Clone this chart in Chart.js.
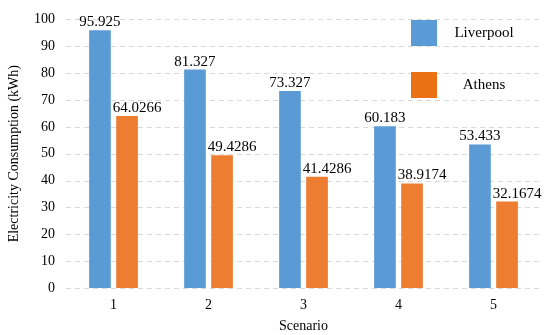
<!DOCTYPE html>
<html>
<head>
<meta charset="utf-8">
<script src="https://cdn.jsdelivr.net/npm/chart.js@4/dist/chart.umd.min.js"></script>
<style>
html,body{margin:0;padding:0;background:#fff;}
#wrap{width:550px;height:335px;position:relative;}
</style>
</head>
<body>
<div id="wrap"><canvas id="c" width="550" height="335"></canvas></div>
<script>
const categories = ['1', '2', '3', '4', '5'];
const liverpool = [95.925, 81.327, 73.327, 60.183, 53.433];
const athens = [64.0266, 49.4286, 41.4286, 38.9174, 32.1674];
const liverpoolLabels = ['95.925', '81.327', '73.327', '60.183', '53.433'];
const athensLabels = ['64.0266', '49.4286', '41.4286', '38.9174', '32.1674'];
const seriesNames = ['Liverpool', 'Athens'];

const FONT = '"Liberation Serif", "Times New Roman", serif';
const BLUE = '#5B9BD5';
const ORANGE = '#ED7D31';
const ORANGE_LEGEND = '#EC7014';

const dashedGridPlugin = {
  id: 'dashedGrid',
  beforeDatasetsDraw(chart) {
    const ctx = chart.ctx;
    const y = chart.scales.y;
    const area = chart.chartArea;
    ctx.save();
    ctx.strokeStyle = '#D9D9D9';
    ctx.lineWidth = 1;
    ctx.setLineDash([5, 4]);
    y.ticks.forEach(t => {
      const py = Math.round(y.getPixelForValue(t.value)) + 0.5;
      ctx.beginPath();
      ctx.moveTo(area.left, py);
      ctx.lineTo(area.right, py);
      ctx.stroke();
    });
    ctx.restore();
  }
};

const dataLabelPlugin = {
  id: 'dataLabels',
  afterDatasetsDraw(chart) {
    const ctx = chart.ctx;
    ctx.save();
    ctx.font = '15px ' + FONT;
    ctx.fillStyle = '#000';
    ctx.textBaseline = 'alphabetic';
    ctx.textAlign = 'center';
    const labelSets = [liverpoolLabels, athensLabels];
    chart.data.datasets.forEach((ds, di) => {
      const meta = chart.getDatasetMeta(di);
      meta.data.forEach((bar, i) => {
        const dx = di === 1 ? 10 : 0;
        ctx.fillText(labelSets[di][i], bar.x + dx, bar.y - 4);
      });
    });
    ctx.restore();
  }
};

const legendPlugin = {
  id: 'customLegend',
  afterDraw(chart) {
    const ctx = chart.ctx;
    ctx.save();
    ctx.font = '15px ' + FONT;
    ctx.textAlign = 'center';
    ctx.textBaseline = 'middle';
    const colors = [BLUE, ORANGE_LEGEND];
    chart.data.datasets.forEach((ds, i) => {
      const y = 20 + i * 52;
      ctx.fillStyle = colors[i];
      ctx.fillRect(411, y, 26, 26);
      ctx.fillStyle = '#000';
      ctx.fillText(ds.label, 484, y + 13);
    });
    ctx.restore();
  }
};

new Chart(document.getElementById('c'), {
  type: 'bar',
  data: {
    labels: categories,
    datasets: [
      { label: seriesNames[0], data: liverpool, backgroundColor: BLUE, categoryPercentage: 0.57, barPercentage: 0.8 },
      { label: seriesNames[1], data: athens, backgroundColor: ORANGE, categoryPercentage: 0.57, barPercentage: 0.8 }
    ]
  },
  options: {
    responsive: false,
    animation: false,
    devicePixelRatio: 1,
    layout: { padding: { top: 14, right: 9, left: 0, bottom: 0 } },
    plugins: { legend: { display: false }, tooltip: { enabled: false } },
    scales: {
      x: {
        grid: { display: false, drawTicks: false },
        border: { display: false },
        ticks: { color: '#000', font: { family: FONT, size: 14 }, padding: 9 },
        title: { display: true, text: 'Scenario', color: '#000', font: { family: FONT, size: 14 }, padding: { top: 0, bottom: 0 } },
        afterFit(s) { s.height = 47; }
      },
      y: {
        min: 0, max: 100,
        ticks: { stepSize: 10, color: '#000', font: { family: FONT, size: 14 }, padding: 11 },
        grid: { display: false, drawTicks: false },
        border: { display: false },
        title: { display: true, text: 'Electricity Consumption (kWh)', color: '#000', font: { family: FONT, size: 14 }, padding: { top: 6, bottom: 0 } },
        afterFit(s) { s.width = 66; }
      }
    }
  },
  plugins: [dashedGridPlugin, dataLabelPlugin, legendPlugin]
});
</script>
</body>
</html>
